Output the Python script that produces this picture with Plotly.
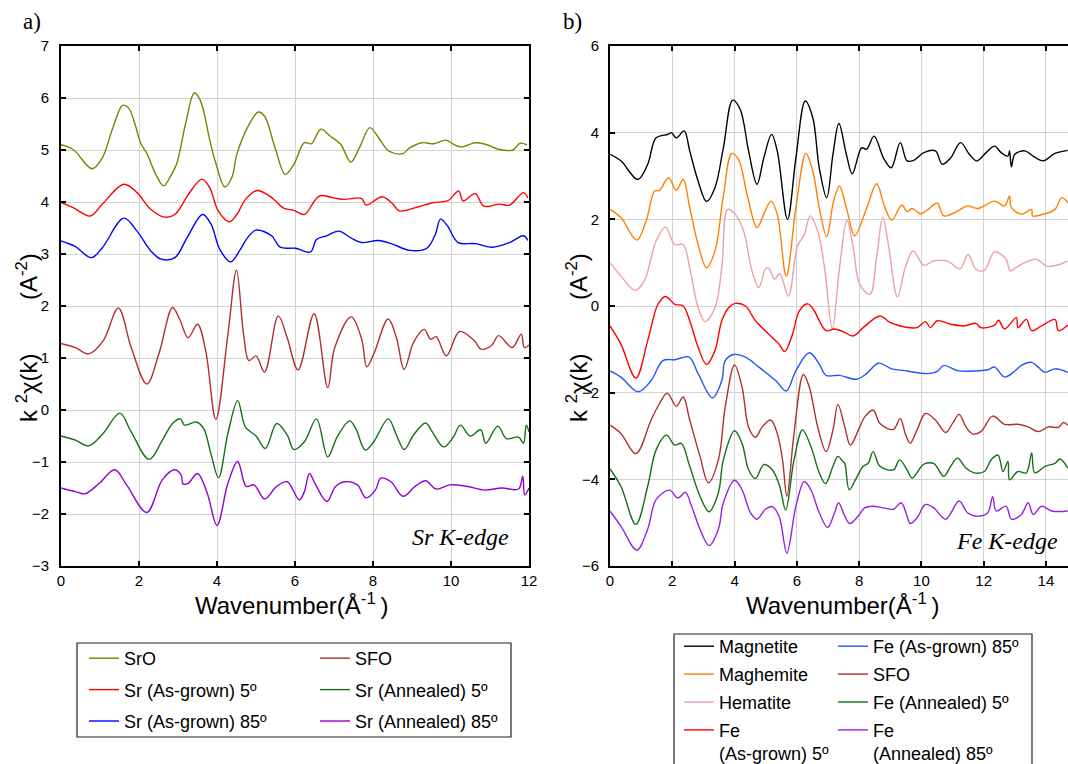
import plotly.graph_objects as go

# ---------------- Panel a) Sr K-edge ----------------
SRO_K = [0, 0.31, 0.80, 1.06, 1.33, 1.58, 1.73, 1.90, 2.04, 2.21, 2.43, 2.63, 2.79, 2.96, 3.19, 3.42, 3.58, 3.82, 3.98, 4.20, 4.38, 4.51, 4.78, 5.06, 5.22, 5.49, 5.75, 5.97, 6.24, 6.42, 6.66, 6.90, 7.17, 7.43, 7.65, 7.92, 8.14, 8.41, 8.76, 8.94, 9.25, 9.56, 9.87, 10.09, 10.27, 10.62, 10.88, 11.24, 11.59, 11.77, 11.95]
SRO_Y = [5.10, 5.01, 4.64, 4.85, 5.43, 5.86, 5.81, 5.49, 5.14, 4.92, 4.53, 4.31, 4.47, 4.72, 5.49, 6.10, 5.94, 5.17, 4.72, 4.29, 4.47, 4.92, 5.43, 5.73, 5.65, 5.04, 4.53, 4.72, 5.14, 5.12, 5.40, 5.27, 5.11, 4.77, 5.04, 5.43, 5.24, 4.98, 4.93, 5.04, 5.14, 5.12, 5.19, 5.10, 5.06, 5.14, 5.11, 5.01, 5.00, 5.13, 5.10]

SRAG5_K = [0, 0.31, 0.75, 1.06, 1.61, 1.95, 2.30, 2.65, 2.92, 3.27, 3.61, 3.81, 4.03, 4.32, 4.51, 4.73, 5.03, 5.27, 5.49, 5.71, 5.97, 6.24, 6.50, 6.64, 6.99, 7.26, 7.70, 7.83, 8.23, 8.50, 8.67, 9.12, 9.56, 9.91, 10.20, 10.31, 10.62, 10.84, 11.24, 11.50, 11.86, 11.97]
SRAG5_Y = [3.99, 3.89, 3.73, 3.96, 4.34, 4.18, 3.86, 3.71, 3.76, 4.15, 4.44, 4.28, 3.83, 3.62, 3.76, 4.05, 4.22, 4.15, 4.03, 3.88, 3.84, 3.76, 4.02, 4.12, 4.08, 4.05, 4.07, 3.94, 4.10, 3.97, 3.83, 3.90, 3.99, 4.02, 4.21, 4.02, 4.16, 3.92, 3.96, 3.94, 4.18, 4.08]

SRAG85_K = [0, 0.35, 0.78, 1.06, 1.61, 1.95, 2.30, 2.57, 2.92, 3.23, 3.63, 3.85, 4.07, 4.35, 4.60, 4.78, 5.00, 5.40, 5.62, 6.02, 6.40, 6.55, 6.81, 7.12, 7.43, 7.70, 8.14, 8.50, 8.94, 9.38, 9.60, 9.73, 9.91, 10.18, 10.62, 11.06, 11.50, 11.86, 11.97]
SRAG85_Y = [3.25, 3.15, 2.93, 3.12, 3.69, 3.44, 3.06, 2.90, 2.93, 3.31, 3.76, 3.57, 3.09, 2.85, 3.09, 3.31, 3.46, 3.35, 3.13, 3.11, 3.04, 3.28, 3.35, 3.44, 3.31, 3.22, 3.26, 3.19, 3.07, 3.11, 3.38, 3.67, 3.54, 3.22, 3.20, 3.13, 3.22, 3.35, 3.26]

SFO_SR_K = [0, 0.37, 0.71, 1.08, 1.47, 1.80, 2.20, 2.51, 2.86, 3.04, 3.26, 3.50, 3.71, 3.97, 4.28, 4.50, 4.68, 4.82, 5.00, 5.22, 5.57, 5.80, 6.08, 6.49, 6.84, 7.02, 7.44, 7.71, 7.84, 8.02, 8.39, 8.60, 8.80, 9.04, 9.31, 9.48, 9.62, 9.88, 10.22, 10.60, 10.77, 11.04, 11.22, 11.57, 11.80, 11.88, 12.0]
SFO_SR_Y = [1.28, 1.20, 1.08, 1.33, 1.96, 1.20, 0.50, 1.08, 1.97, 1.75, 1.39, 1.65, 1.14, -0.18, 1.46, 2.69, 1.46, 0.95, 1.04, 0.73, 1.81, 1.39, 0.77, 1.85, 0.43, 1.20, 1.79, 1.36, 0.83, 1.08, 1.75, 1.39, 0.78, 1.30, 1.55, 1.36, 1.41, 1.04, 1.51, 1.33, 1.17, 1.24, 1.43, 1.20, 1.46, 1.20, 1.25]

SRAN5_K = [0, 0.37, 0.71, 1.08, 1.51, 1.80, 2.26, 2.60, 2.86, 3.06, 3.17, 3.47, 3.66, 3.84, 4.04, 4.28, 4.53, 4.73, 5.00, 5.24, 5.53, 5.80, 5.97, 6.24, 6.55, 6.84, 7.08, 7.40, 7.56, 7.80, 8.02, 8.39, 8.60, 8.80, 9.04, 9.35, 9.52, 9.81, 10.06, 10.24, 10.49, 10.76, 10.89, 11.20, 11.42, 11.73, 11.86, 11.93, 12.0]
SRAN5_Y = [-0.50, -0.58, -0.69, -0.45, -0.06, -0.42, -0.95, -0.58, -0.26, -0.17, -0.29, -0.23, -0.36, -0.83, -1.30, -0.45, 0.18, -0.33, -0.50, -0.74, -0.26, -0.48, -0.76, -0.61, -0.17, -0.90, -0.52, -0.21, -0.36, -0.77, -0.61, -0.17, -0.48, -0.76, -0.48, -0.25, -0.42, -0.71, -0.52, -0.29, -0.50, -0.38, -0.64, -0.31, -0.55, -0.52, -0.64, -0.29, -0.42]

SRAN85_K = [0, 0.37, 0.62, 0.98, 1.38, 1.69, 2.20, 2.60, 2.91, 3.08, 3.13, 3.26, 3.50, 3.75, 4.00, 4.28, 4.53, 4.75, 4.95, 5.22, 5.53, 5.80, 6.11, 6.24, 6.37, 6.51, 6.82, 7.04, 7.29, 7.60, 7.82, 8.06, 8.20, 8.46, 8.77, 9.08, 9.35, 9.62, 9.97, 10.42, 10.86, 11.30, 11.73, 11.84, 11.89, 12.0]
SRAN85_Y = [-1.50, -1.57, -1.61, -1.41, -1.15, -1.45, -1.97, -1.34, -1.15, -1.25, -1.42, -1.41, -1.22, -1.60, -2.22, -1.41, -0.99, -1.47, -1.44, -1.71, -1.47, -1.38, -1.73, -1.57, -1.22, -1.41, -1.76, -1.47, -1.38, -1.44, -1.69, -1.54, -1.31, -1.38, -1.66, -1.47, -1.36, -1.52, -1.44, -1.47, -1.54, -1.50, -1.52, -1.28, -1.63, -1.50]

# ---------------- Panel b) Fe K-edge ----------------
MAGN_K = [0, 0.35, 0.89, 1.21, 1.48, 1.86, 1.97, 2.13, 2.38, 2.56, 2.83, 3.10, 3.37, 3.64, 3.94, 4.18, 4.45, 4.72, 4.94, 5.19, 5.37, 5.70, 5.97, 6.27, 6.51, 6.72, 6.96, 7.16, 7.35, 7.59, 7.78, 8.08, 8.24, 8.48, 8.78, 9.03, 9.32, 9.54, 9.75, 10.08, 10.45, 10.67, 10.94, 11.26, 11.54, 11.78, 12.08, 12.35, 12.56, 12.78, 12.83, 12.89, 13.0, 13.32, 13.59, 13.91, 14.29, 14.70]
MAGN_Y = [3.50, 3.35, 2.92, 3.27, 3.88, 3.96, 4.00, 3.88, 4.04, 3.58, 2.88, 2.41, 2.73, 3.65, 4.75, 4.54, 3.58, 2.81, 3.42, 3.96, 3.58, 2.00, 3.42, 4.73, 4.35, 3.19, 2.50, 3.50, 4.21, 3.50, 3.05, 3.65, 3.62, 3.92, 3.42, 3.19, 3.77, 3.35, 3.36, 3.54, 3.58, 3.27, 3.42, 3.77, 3.50, 3.35, 3.54, 3.69, 3.54, 3.46, 3.58, 3.21, 3.50, 3.58, 3.46, 3.35, 3.52, 3.59]

MAGH_K = [0, 0.35, 0.86, 1.16, 1.43, 1.59, 1.88, 2.13, 2.35, 2.56, 2.83, 3.10, 3.37, 3.64, 3.91, 4.13, 4.40, 4.72, 4.94, 5.17, 5.37, 5.66, 5.97, 6.29, 6.51, 6.72, 6.96, 7.18, 7.37, 7.59, 7.86, 8.13, 8.29, 8.56, 8.83, 9.05, 9.37, 9.54, 9.70, 9.97, 10.18, 10.51, 10.72, 11.16, 11.48, 11.81, 12.35, 12.67, 12.83, 12.89, 13.21, 13.54, 13.57, 13.97, 14.29, 14.51, 14.70]
MAGH_Y = [2.23, 2.04, 1.52, 1.96, 2.65, 2.67, 2.96, 2.67, 2.92, 2.27, 1.42, 0.88, 1.27, 2.54, 3.52, 3.38, 2.58, 1.81, 2.12, 2.42, 2.12, 0.69, 2.27, 3.52, 3.12, 2.27, 1.60, 2.42, 2.77, 2.27, 1.62, 2.04, 2.35, 2.82, 2.27, 1.98, 2.33, 2.18, 2.25, 2.13, 2.21, 2.37, 2.08, 2.19, 2.31, 2.25, 2.42, 2.31, 2.54, 2.27, 2.12, 2.23, 2.08, 2.13, 2.23, 2.50, 2.38]

HEM_K = [0, 0.35, 0.81, 1.10, 1.48, 1.78, 2.08, 2.35, 2.56, 2.83, 3.05, 3.37, 3.59, 3.78, 4.02, 4.29, 4.56, 4.78, 4.99, 5.10, 5.29, 5.45, 5.73, 6.02, 6.24, 6.43, 6.67, 6.89, 7.14, 7.37, 7.61, 7.81, 8.02, 8.35, 8.56, 8.76, 8.94, 9.23, 9.48, 9.73, 10.08, 10.40, 10.83, 11.24, 11.50, 11.75, 12.02, 12.35, 12.72, 12.85, 13.02, 13.32, 13.70, 14.02, 14.45, 14.70]
HEM_Y = [1.00, 0.69, 0.36, 0.58, 1.50, 1.82, 1.42, 1.42, 0.88, -0.04, -0.36, -0.04, 0.88, 2.23, 2.12, 1.73, 0.81, 0.42, 0.85, 0.87, 0.62, 0.75, 0.23, 1.38, 1.65, 2.08, 1.73, 0.88, -0.53, 0.88, 1.98, 1.35, 0.50, 0.27, 1.12, 2.05, 1.42, 0.21, 0.88, 1.27, 0.94, 1.04, 1.04, 0.86, 1.19, 0.85, 0.82, 1.25, 1.08, 0.81, 0.88, 1.00, 1.08, 0.92, 0.96, 1.04]

FEAG5_K = [0, 0.35, 0.83, 1.21, 1.54, 1.78, 2.08, 2.35, 2.56, 2.83, 3.10, 3.37, 3.59, 3.81, 4.02, 4.35, 4.67, 5.10, 5.43, 5.61, 5.86, 6.08, 6.35, 6.56, 6.72, 6.94, 7.21, 7.48, 7.81, 8.13, 8.67, 8.99, 9.43, 9.86, 10.13, 10.29, 10.51, 10.94, 11.37, 11.75, 11.91, 12.35, 12.48, 12.67, 13.05, 13.10, 13.37, 13.54, 13.86, 14.29, 14.40, 14.70]
FEAG5_Y = [-0.46, -0.88, -1.66, -0.80, 0.04, 0.22, 0.04, 0.00, -0.34, -0.95, -1.35, -1.03, -0.34, -0.04, 0.06, 0.00, -0.34, -0.65, -0.88, -1.05, -0.65, -0.11, 0.05, -0.11, -0.34, -0.57, -0.53, -0.59, -0.69, -0.50, -0.23, -0.38, -0.48, -0.50, -0.36, -0.50, -0.34, -0.42, -0.46, -0.40, -0.50, -0.44, -0.33, -0.53, -0.27, -0.50, -0.31, -0.57, -0.46, -0.31, -0.57, -0.44]

FEAG85_K = [0, 0.35, 0.91, 1.32, 1.70, 2.08, 2.54, 2.83, 3.29, 3.59, 3.70, 3.97, 4.35, 4.78, 5.32, 5.66, 5.97, 6.40, 6.72, 6.94, 7.37, 7.91, 8.24, 8.62, 9.05, 9.54, 10.18, 10.51, 10.72, 11.16, 11.70, 12.13, 12.35, 12.67, 13.0, 13.21, 13.54, 13.75, 13.97, 14.29, 14.70]
FEAG85_Y = [-1.50, -1.64, -1.98, -1.72, -1.26, -1.24, -1.18, -1.56, -2.12, -1.72, -1.26, -1.12, -1.18, -1.41, -1.72, -1.96, -1.49, -1.08, -1.34, -1.60, -1.60, -1.69, -1.56, -1.32, -1.45, -1.50, -1.56, -1.51, -1.37, -1.49, -1.50, -1.47, -1.41, -1.64, -1.50, -1.37, -1.30, -1.41, -1.53, -1.45, -1.53]

SFO_FE_K = [0, 0.35, 0.83, 1.32, 1.59, 1.84, 2.13, 2.35, 2.56, 2.89, 3.16, 3.48, 3.70, 4.00, 4.24, 4.45, 4.67, 4.89, 5.16, 5.37, 5.54, 5.68, 5.91, 6.21, 6.40, 6.67, 6.94, 7.16, 7.32, 7.54, 7.72, 8.02, 8.18, 8.45, 8.67, 9.10, 9.32, 9.48, 9.64, 9.86, 10.13, 10.45, 10.78, 11.00, 11.21, 11.43, 11.64, 11.91, 12.29, 12.67, 13.10, 13.43, 13.75, 14.08, 14.40, 14.56, 14.70]
SFO_FE_Y = [-2.75, -2.94, -3.41, -2.63, -2.25, -2.01, -2.31, -2.10, -2.63, -3.47, -4.08, -3.55, -2.33, -1.36, -1.87, -2.79, -3.03, -2.79, -2.63, -2.94, -3.55, -4.39, -2.94, -1.58, -1.87, -2.79, -3.36, -2.86, -2.27, -2.79, -3.21, -2.79, -2.56, -2.40, -2.71, -2.85, -2.60, -2.94, -3.17, -2.86, -2.48, -2.63, -2.92, -2.71, -2.50, -2.79, -2.95, -2.90, -2.54, -2.73, -2.73, -2.79, -2.90, -2.79, -2.80, -2.69, -2.75]

FEAN5_K = [0, 0.35, 0.83, 1.21, 1.48, 1.81, 2.08, 2.29, 2.56, 2.89, 3.18, 3.48, 3.64, 4.00, 4.24, 4.45, 4.67, 4.94, 5.21, 5.45, 5.64, 5.91, 6.18, 6.45, 6.72, 6.92, 7.16, 7.32, 7.48, 7.54, 7.68, 7.91, 8.13, 8.29, 8.45, 8.67, 9.10, 9.30, 9.54, 9.70, 10.08, 10.40, 10.72, 10.94, 11.16, 11.43, 11.70, 12.02, 12.24, 12.46, 12.62, 12.78, 12.83, 13.10, 13.37, 13.54, 13.64, 13.97, 14.29, 14.45, 14.70]
FEAN5_Y = [-3.76, -4.16, -5.04, -4.16, -3.32, -2.98, -3.21, -3.17, -3.70, -4.39, -4.75, -4.31, -3.55, -2.88, -3.17, -3.78, -3.98, -3.66, -3.78, -4.16, -4.71, -3.55, -2.86, -3.24, -3.85, -4.10, -3.70, -3.47, -3.59, -3.63, -4.24, -3.97, -3.70, -3.63, -3.36, -3.70, -3.78, -3.55, -3.78, -3.97, -3.65, -3.64, -3.93, -3.70, -3.51, -3.74, -3.85, -3.82, -3.55, -3.44, -3.82, -3.59, -4.01, -3.82, -3.85, -3.39, -3.85, -3.70, -3.63, -3.53, -3.74]

FEAN85_K = [0, 0.35, 0.86, 1.21, 1.48, 1.91, 2.18, 2.42, 2.62, 2.89, 3.18, 3.48, 3.64, 4.00, 4.24, 4.51, 4.72, 4.99, 5.21, 5.43, 5.68, 5.97, 6.24, 6.45, 6.72, 6.99, 7.21, 7.34, 7.54, 7.70, 7.97, 8.18, 8.45, 8.78, 9.10, 9.35, 9.54, 9.64, 9.86, 10.13, 10.40, 10.78, 11.21, 11.48, 11.81, 12.13, 12.29, 12.40, 12.72, 12.89, 13.21, 13.43, 13.59, 13.86, 14.18, 14.70]
FEAN85_Y = [-4.73, -5.08, -5.63, -5.15, -4.47, -4.25, -4.43, -4.30, -4.62, -5.15, -5.53, -5.15, -4.54, -4.02, -4.24, -4.77, -4.92, -4.69, -4.63, -4.85, -5.70, -4.62, -4.05, -4.24, -4.77, -5.11, -4.77, -4.54, -4.85, -5.02, -4.85, -4.66, -4.62, -4.66, -4.69, -4.54, -4.85, -5.02, -4.89, -4.58, -4.66, -4.92, -4.50, -4.77, -4.85, -4.77, -4.40, -4.73, -4.62, -4.92, -4.81, -4.54, -4.81, -4.62, -4.73, -4.73]

LEFT_XTICKS = [0, 2, 4, 6, 8, 10, 12]
LEFT_YTICKS = [-3, -2, -1, 0, 1, 2, 3, 4, 5, 6, 7]
RIGHT_XTICKS = [0, 2, 4, 6, 8, 10, 12, 14]
RIGHT_YTICKS = [-6, -4, -2, 0, 2, 4, 6]

W, H = 1068, 764
def px(x):
    return x / W
def py(y):
    return 1 - y / H

FONT = "Liberation Sans, Arial, sans-serif"
SERIF = "Liberation Serif, Times New Roman, serif"

fig = go.Figure()

left_series = [
    ("SrO", SRO_K, SRO_Y, "#808000", "legend"),
    ("Sr (As-grown) 5º", SRAG5_K, SRAG5_Y, "#ff0000", "legend"),
    ("Sr (As-grown) 85º", SRAG85_K, SRAG85_Y, "#0000ff", "legend"),
    ("SFO", SFO_SR_K, SFO_SR_Y, "#b03030", "legend2"),
    ("Sr (Annealed) 5º", SRAN5_K, SRAN5_Y, "#137013", "legend2"),
    ("Sr (Annealed) 85º", SRAN85_K, SRAN85_Y, "#9400d3", "legend2"),
]
right_series = [
    ("Magnetite", MAGN_K, MAGN_Y, "#000000", "legend3"),
    ("Maghemite", MAGH_K, MAGH_Y, "#ff8000", "legend3"),
    ("Hematite", HEM_K, HEM_Y, "#eca0a8", "legend3"),
    ("Fe<br>(As-grown) 5º", FEAG5_K, FEAG5_Y, "#ff0000", "legend3"),
    ("Fe (As-grown) 85º", FEAG85_K, FEAG85_Y, "#2255ff", "legend4"),
    ("SFO", SFO_FE_K, SFO_FE_Y, "#b03030", "legend4"),
    ("Fe (Annealed) 5º", FEAN5_K, FEAN5_Y, "#137013", "legend4"),
    ("Fe<br>(Annealed) 85º", FEAN85_K, FEAN85_Y, "#9a20e0", "legend4"),
]

i = 0
for name, k, v, c, lg in left_series:
    fig.add_trace(go.Scatter(x=k, y=v, mode="lines", name=name,
                             line=dict(color=c, width=1.4, shape="spline", smoothing=1.0),
                             xaxis="x", yaxis="y", legend=lg, legendgroup="g%d" % i))
    i += 1
for name, k, v, c, lg in right_series:
    fig.add_trace(go.Scatter(x=k, y=v, mode="lines", name=name,
                             line=dict(color=c, width=1.4, shape="spline", smoothing=1.0),
                             xaxis="x2", yaxis="y2", legend=lg, legendgroup="g%d" % i))
    i += 1

ax_common = dict(showgrid=True, gridcolor="#d3d3d3", gridwidth=1, zeroline=False,
                 showline=True, linecolor="black", linewidth=2, ticks="inside",
                 ticklen=5, tickcolor="black", tickwidth=1.5,
                 tickfont=dict(family=FONT, size=15, color="black"))

ydom = [py(566), py(46)]
fig.update_layout(
    width=W, height=H, margin=dict(l=0, r=0, t=0, b=0, autoexpand=False),
    paper_bgcolor="white", plot_bgcolor="white",
    xaxis=dict(domain=[px(61), px(529)], range=[0, 12], tickvals=LEFT_XTICKS,
               mirror="ticks", anchor="y", **ax_common),
    yaxis=dict(domain=ydom, range=[-3, 7], tickvals=LEFT_YTICKS, mirror="ticks",
               anchor="x", ticklabelstandoff=7, **ax_common),
    xaxis2=dict(domain=[px(610), 1.0], range=[0, (W - 610) / 31.14], tickvals=RIGHT_XTICKS,
                mirror="ticks", anchor="y2", **ax_common),
    yaxis2=dict(domain=ydom, range=[-6, 6], tickvals=RIGHT_YTICKS, mirror=False,
                anchor="x2", ticklabelstandoff=6, **ax_common),
)

leg_common = dict(orientation="v", bgcolor="rgba(0,0,0,0)", borderwidth=0,
                  font=dict(family=FONT, size=18, color="black"),
                  xanchor="left", yanchor="top", itemwidth=30, valign="top")
fig.update_layout(
    legend=dict(x=px(84), y=py(640), tracegroupgap=5, **leg_common),
    legend2=dict(x=px(315), y=py(640), tracegroupgap=5, **leg_common),
    legend3=dict(x=px(679), y=py(628), tracegroupgap=1.5, **leg_common),
    legend4=dict(x=px(833), y=py(628), tracegroupgap=1.5, **leg_common),
)

shapes = [
    dict(type="rect", xref="paper", yref="paper", x0=px(77), x1=px(511), y0=py(737), y1=py(643),
         line=dict(color="#222", width=1.2)),
    dict(type="rect", xref="paper", yref="paper", x0=px(674), x1=px(1032), y0=py(780), y1=py(634),
         line=dict(color="#222", width=1.2)),
]
fig.update_layout(shapes=shapes)

NB = "&nbsp;"
ytitle = "k <sup>2</sup>χ(k)" + NB * 8 + "(A<sup>-2</sup>)"
xtitle = "Wavenumber(Å<sup>-1 </sup>)"
ann = [
    dict(text="a)", x=px(32), y=py(22), font=dict(family=SERIF, size=23, color="black")),
    dict(text="b)", x=px(572), y=py(22), font=dict(family=SERIF, size=23, color="black")),
    dict(text=ytitle, x=px(27), y=py(338), textangle=-90, font=dict(family=FONT, size=24, color="black")),
    dict(text=ytitle, x=px(577), y=py(338), textangle=-90, font=dict(family=FONT, size=24, color="black")),
    dict(text=xtitle, x=px(291), y=py(604), font=dict(family=FONT, size=24, color="black")),
    dict(text=xtitle, x=px(842), y=py(604), font=dict(family=FONT, size=24, color="black")),
    dict(text="<i>Sr K-edge</i>", x=px(460), y=py(537), font=dict(family=SERIF, size=24, color="black")),
    dict(text="<i>Fe K-edge</i>", x=px(1007), y=py(541), font=dict(family=SERIF, size=24, color="black")),
]
for a in ann:
    a.update(xref="paper", yref="paper", showarrow=False, xanchor="center", yanchor="middle")
fig.update_layout(annotations=ann)

fig.write_html("out.html")
